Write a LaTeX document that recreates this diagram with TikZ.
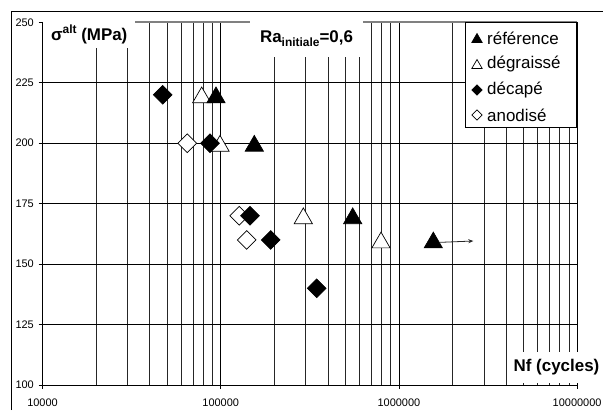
\documentclass[tikz,border=0pt]{standalone}
\usepackage{fontspec}
\setmainfont{Liberation Sans}
\usetikzlibrary{shapes.geometric,arrows.meta}

\tikzset{
  gridminor/.style={black!85, line width=0.7bp},
  gridmajor/.style={black, line width=0.8bp},
  ticklabel/.style={font=\fontsize{11}{13}\selectfont, inner sep=0pt},
  axistitle/.style={font=\fontsize{17}{20}\selectfont\bfseries, fill=white, inner sep=0pt},
  keytext/.style={font=\fontsize{17}{20}\selectfont, anchor=west, inner sep=0pt},
  tri/.style={regular polygon, regular polygon sides=3, draw=black, line width=0.7bp, inner sep=0pt},
  dia/.style={diamond, aspect=1, draw=black, line width=0.7bp, inner sep=0pt},
  datatri/.style={tri, minimum size=21bp, yshift=-2.7bp},
  datadia/.style={dia, minimum width=19bp, minimum height=19bp},
  keytri/.style={tri, minimum size=12bp, yshift=-1.5bp},
  keydia/.style={dia, minimum width=10.5bp, minimum height=10.5bp},
}

\begin{document}
\begin{tikzpicture}[x=1bp, y=-1bp]
    \useasboundingbox (0,0) rectangle (603,410);

    % frame
    \draw [black, line width=0.8bp] (11,410) -- (11,11) -- (603,11);

    % vertical grid, log scale
    \foreach \k in {0,1,2}{
      \foreach \m in {2,...,9}{
        \pgfmathsetmacro{\gx}{42.5+178.2*(\k+log10(\m))}
        \draw [gridminor] (\gx,22.3) -- (\gx,385);
      }
      \pgfmathsetmacro{\gx}{42.5+178.2*(\k+1)}
      \draw [gridmajor] (\gx,22.3) -- (\gx,385);
    }
    % horizontal grid
    \foreach \gy in {82.75,143.2,203.65,264.1,324.55}{
      \draw [gridmajor] (42.5,\gy) -- (577.1,\gy);
    }
    \draw [gray, line width=2bp] (42.5,22.3) -- (577.1,22.3);

    % titles (white boxes over the grid)
    \node[axistitle, minimum width=92bp, minimum height=27bp](ytitle) at (89.2,34)
      {σ\raisebox{0.42em}{\fontsize{12}{14}\selectfont alt} (MPa)};
    \node[axistitle, minimum width=113bp, minimum height=37bp](ratitle) at (306.5,38.5)
      {Ra\raisebox{-0.22em}{\fontsize{12}{14}\selectfont initiale}=0,6};
    \node[axistitle, minimum width=93bp, minimum height=31bp](xtitle) at (556.5,367.5)
      {Nf (cycles)};

    % axes
    \draw [black, line width=0.8bp] (42.5,22.3) -- (42.5,385) -- (577.1,385);
    \foreach \gy/\val in {22.3/250,82.75/225,143.2/200,203.65/175,264.1/150,324.55/125,385/100}{
      \draw [black, line width=0.8bp] (38.5,\gy) -- (42.5,\gy);
      \node[ticklabel, anchor=east](yl\val) at (34,\gy){\val};
    }
    \foreach \gx/\val in {42.5/10000,220.7/100000,398.9/1000000,577.1/10000000}{
      \draw [black, line width=0.8bp] (\gx,385) -- (\gx,389);
      \node[ticklabel](xl\val) at (\gx,402.5){\val};
    }

    % anodise
    \node[datadia, fill=white](ano1) at (187.3,143.2){};
    \node[datadia, fill=white](ano2) at (239.3,215.7){};
    \node[datadia, fill=white](ano3) at (246.7,239.9){};
    % degraisse
    \node[datatri, fill=white](deg1) at (201.7,94.8){};
    \node[datatri, fill=white](deg2) at (220,143.2){};
    \node[datatri, fill=white](deg3) at (303.3,215.7){};
    \node[datatri, fill=white](deg4) at (381,239.9){};
    % decape
    \node[datadia, fill=black](dec1) at (162.7,94.8){};
    \node[datadia, fill=black](dec2) at (210,143.2){};
    \node[datadia, fill=black](dec3) at (250,215.7){};
    \node[datadia, fill=black](dec4) at (270.7,239.9){};
    \node[datadia, fill=black](dec5) at (316.7,288.3){};
    % reference
    \node[datatri, fill=black](ref1) at (216,94.8){};
    \node[datatri, fill=black](ref2) at (254.3,143.2){};
    \node[datatri, fill=black](ref3) at (352.7,215.7){};
    \node[datatri, fill=black](ref4) at (433.3,239.9){};
    % runout arrow
    \coordinate (runout) at (473.3,241);
    \draw [black!85, line width=0.8bp, -{Stealth[length=5bp, width=4bp]}] (ref4) -- (runout);

    % legend
    \node[draw=black, fill=white, line width=0.8bp, inner sep=0pt,
      minimum width=111bp, minimum height=105bp](legend) at (521.2,74.5){};
    \node[keytri, fill=black](keyref) at (477,38){};
    \node[keytext](txtref) at (487,38){référence};
    \node[keytri, fill=white](keydeg) at (477,64){};
    \node[keytext](txtdeg) at (487,64){dégraissé};
    \node[keydia, fill=black](keydec) at (477,90){};
    \node[keytext](txtdec) at (487,90){décapé};
    \node[keydia, fill=white](keyano) at (477,115){};
    \node[keytext](txtano) at (487,115){anodisé};
  \end{tikzpicture}
\end{document}
